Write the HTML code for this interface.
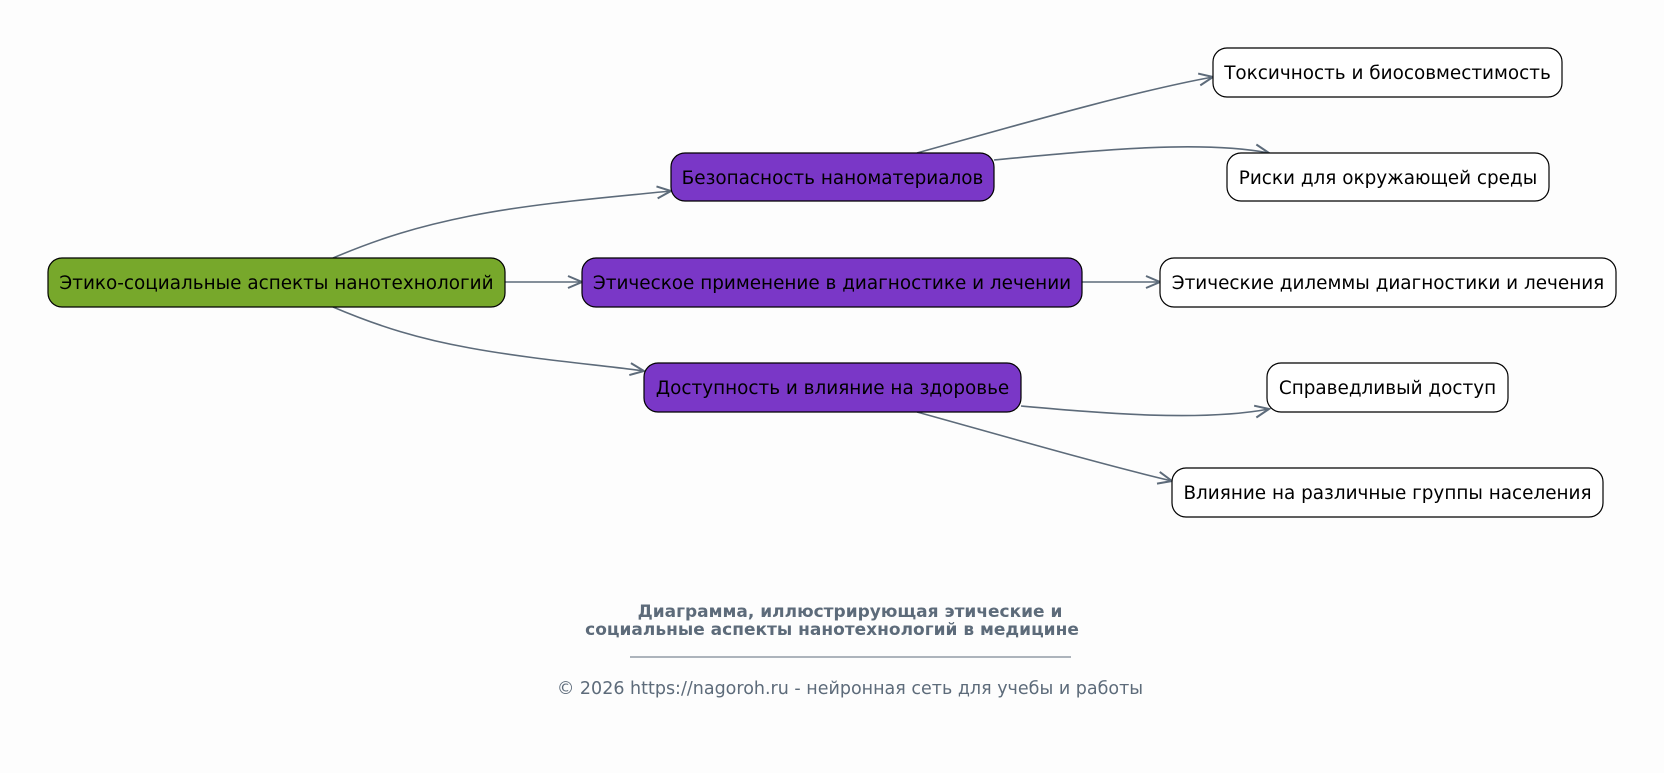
<!DOCTYPE html>
<html><head><meta charset="utf-8"><style>
body{margin:0;background:#fdfdfd;}
svg{display:block}
text{font-family:"DejaVu Sans","Liberation Sans",sans-serif;}
</style></head><body>
<svg width="1664" height="773" viewBox="0 0 1664 773" xmlns="http://www.w3.org/2000/svg">
<defs><marker id="a" markerWidth="18" markerHeight="16" refX="16" refY="8" orient="auto" markerUnits="userSpaceOnUse"><path d="M2,2 L16,8 L2,14" fill="none" stroke="#5d6b7a" stroke-width="2"/></marker></defs>
<rect width="1664" height="773" fill="#fdfdfd"/>
<g fill="none" stroke="#5d6b7a" stroke-width="1.6" marker-end="url(#a)">
<path d="M333,258 C380,238 420,226 470,216 C530,204 600,198 671,191"/>
<path d="M505,282 L582,282"/>
<path d="M333,307 C380,327 420,339 470,348 C530,359 600,365 644,371"/>
<path d="M917,153 C1000,130 1130,92 1213,77"/>
<path d="M994,160 C1100,150 1200,140 1269,153"/>
<path d="M1082,282 L1160,282"/>
<path d="M1021,406 C1100,413 1200,422 1269,409"/>
<path d="M917,412 C1000,435 1100,464 1172,481"/>
</g>
<g stroke="#000" stroke-width="1.2">
<rect x="48" y="258" width="457" height="49" rx="14" fill="#77a82b"/>
<rect x="671" y="153" width="323" height="48" rx="14" fill="#7a37c7"/>
<rect x="582" y="258" width="500" height="49" rx="14" fill="#7a37c7"/>
<rect x="644" y="363" width="377" height="49" rx="14" fill="#7a37c7"/>
<rect x="1213" y="48" width="349" height="49" rx="14" fill="#fff"/>
<rect x="1227" y="153" width="322" height="48" rx="14" fill="#fff"/>
<rect x="1160" y="258" width="456" height="49" rx="14" fill="#fff"/>
<rect x="1267" y="363" width="241" height="49" rx="14" fill="#fff"/>
<rect x="1172" y="468" width="431" height="49" rx="14" fill="#fff"/>
</g>
<g font-size="18.4" fill="#000" text-anchor="middle">
<text x="276.5" y="289">Этико-социальные аспекты нанотехнологий</text>
<text x="832.5" y="184">Безопасность наноматериалов</text>
<text x="832" y="289">Этическое применение в диагностике и лечении</text>
<text x="832.5" y="394">Доступность и влияние на здоровье</text>
<text x="1387.5" y="79">Токсичность и биосовместимость</text>
<text x="1388" y="184">Риски для окружающей среды</text>
<text x="1388" y="289">Этические дилеммы диагностики и лечения</text>
<text x="1387.5" y="394">Справедливый доступ</text>
<text x="1387.5" y="499">Влияние на различные группы населения</text>
</g>
<g fill="#5d6b7a" text-anchor="middle">
<text x="850" y="617" font-size="17" font-weight="bold">Диаграмма, иллюстрирующая этические и</text>
<text x="832" y="635" font-size="17" font-weight="bold">социальные аспекты нанотехнологий в медицине</text>
<line x1="630" y1="657" x2="1071" y2="657" stroke="#5d6b7a" stroke-width="1"/>
<text x="850" y="694" font-size="17.5">© 2026 https://nagoroh.ru - нейронная сеть для учебы и работы</text>
</g>
</svg>
</body></html>
